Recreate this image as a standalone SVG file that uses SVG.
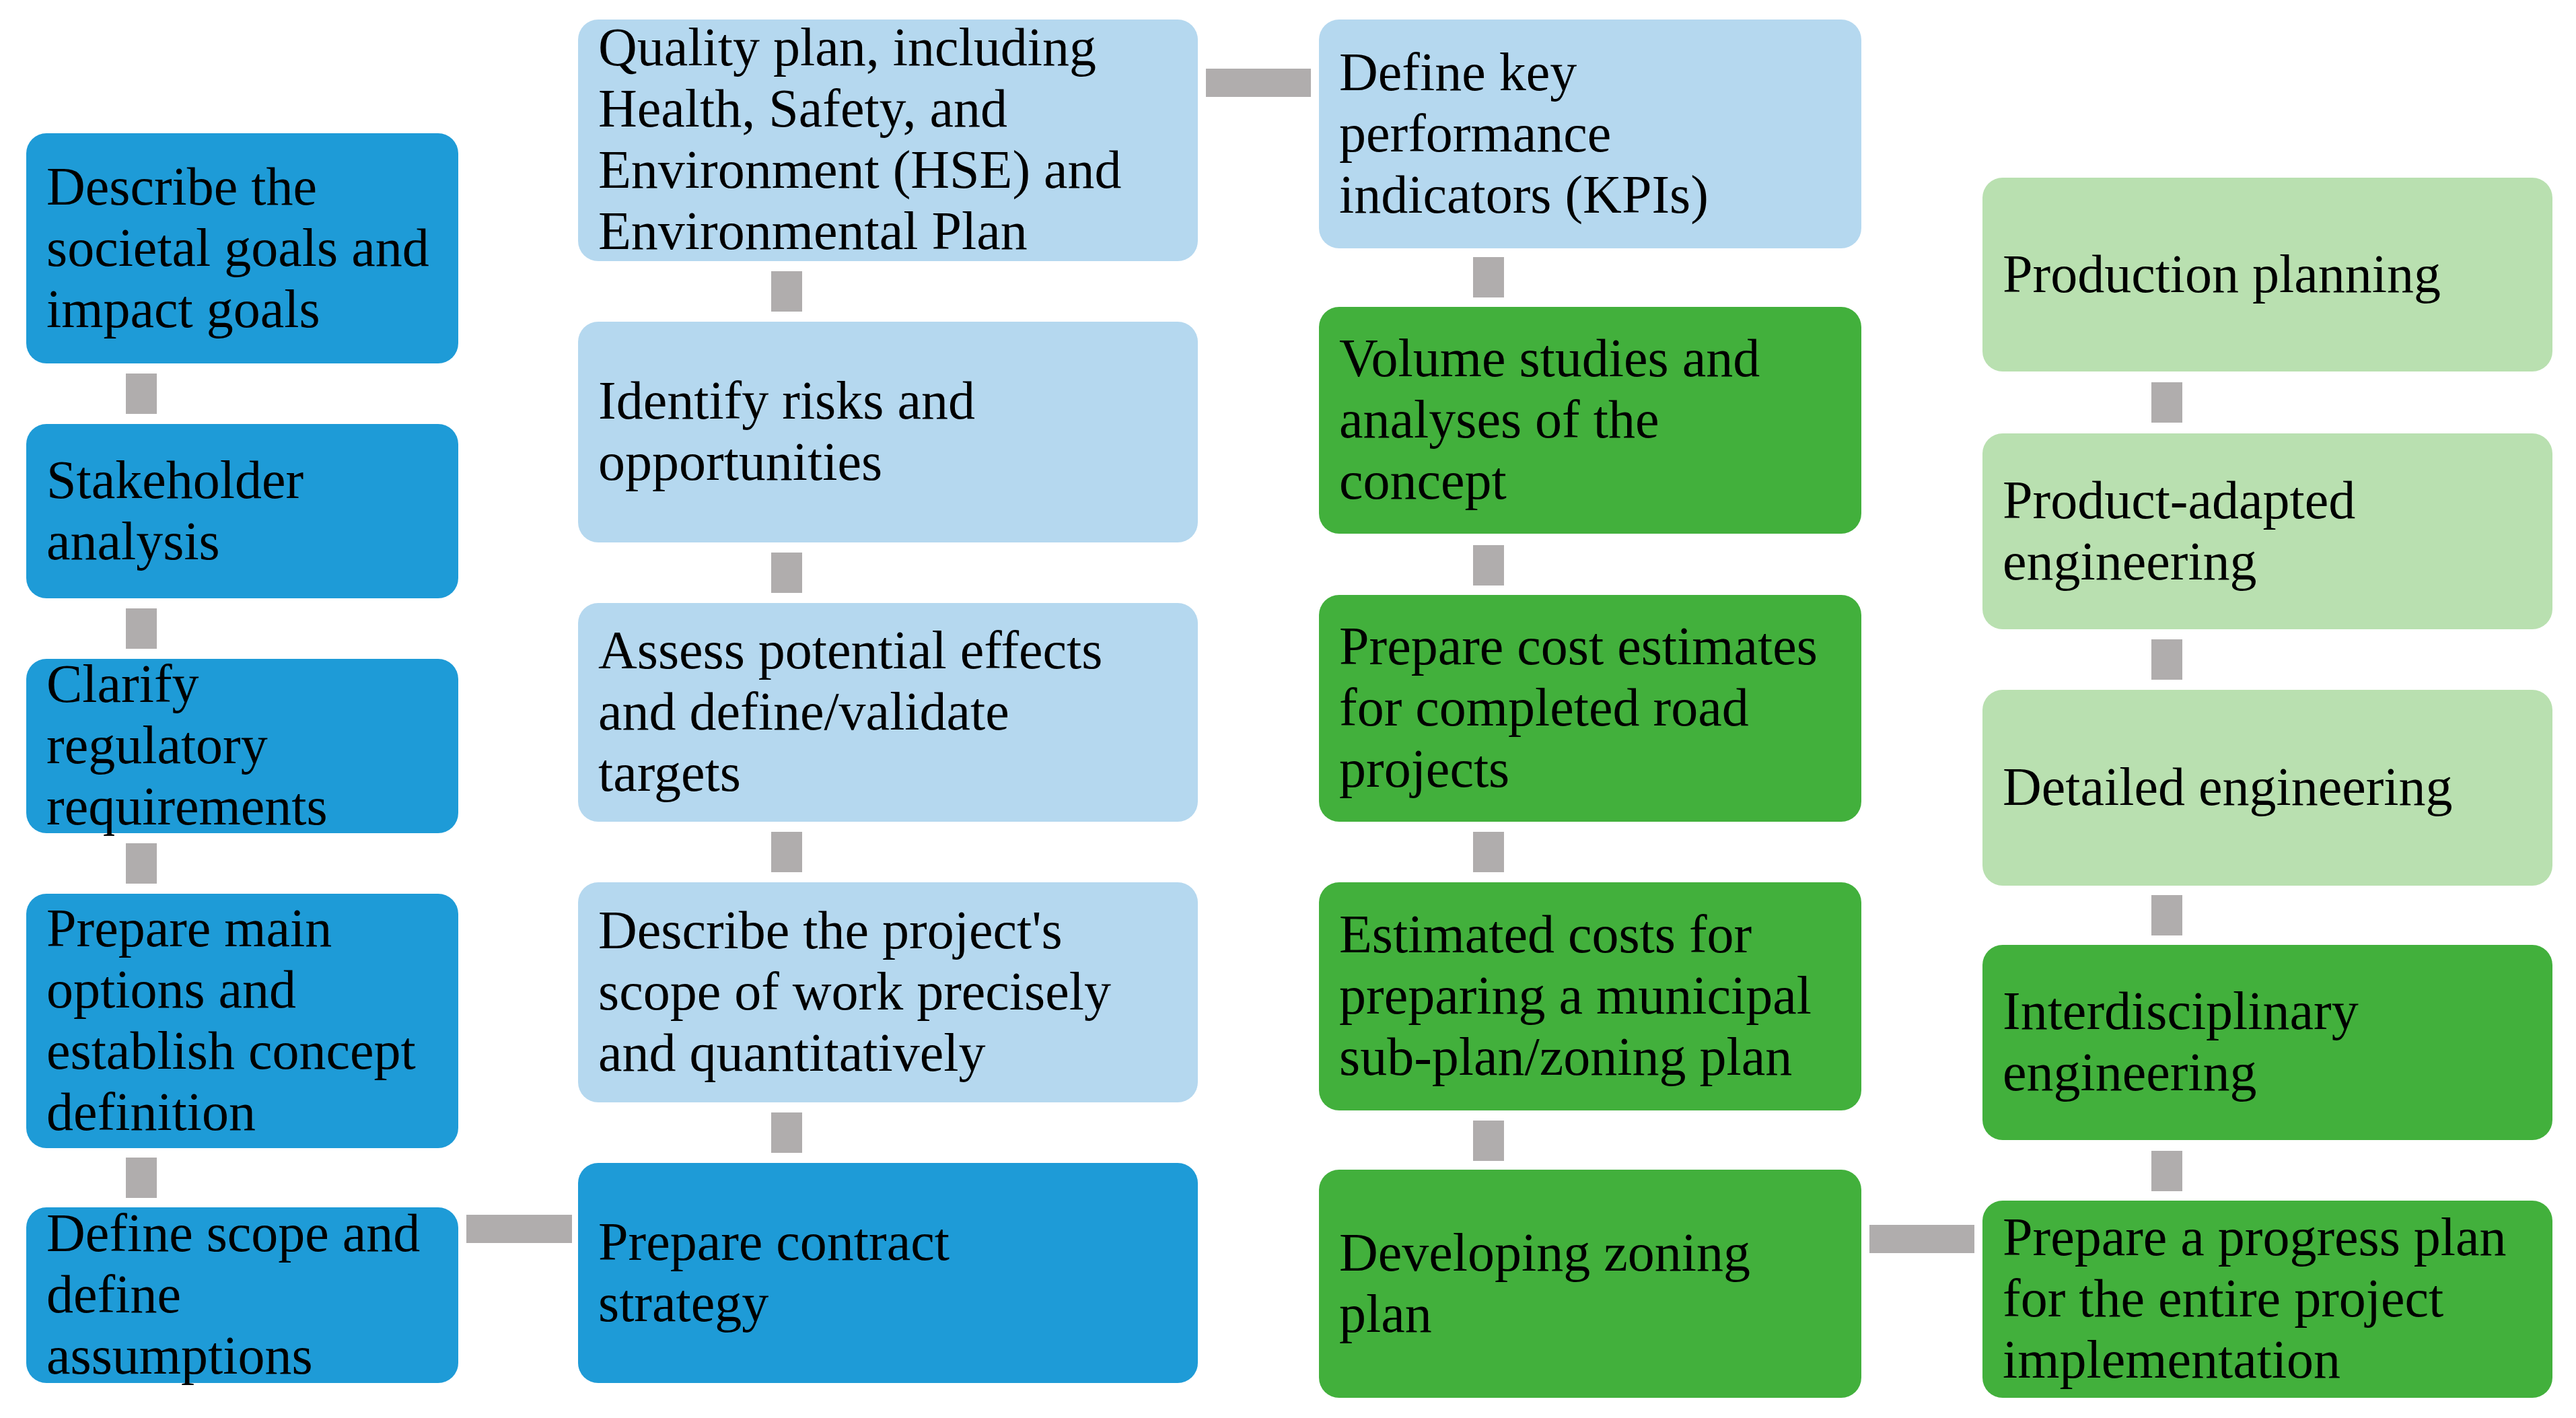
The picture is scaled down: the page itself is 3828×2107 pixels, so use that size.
<svg xmlns="http://www.w3.org/2000/svg" width="3828" height="2107" viewBox="0 0 3828 2107">
<style>
text{font-family:"Liberation Serif","Times New Roman",serif;font-size:80px;fill:#000}
.db{fill:#1e9bd7}.lb{fill:#b5d8ef}.g{fill:#42b03c}.lg{fill:#b9e0b0}
.c{fill:#b0adad}
</style>
<rect width="3828" height="2107" fill="#fff"/>
<g id="connectors">
<rect class="c" x="187" y="555" width="46" height="60"/><rect class="c" x="187" y="904" width="46" height="60"/><rect class="c" x="187" y="1253" width="46" height="60"/><rect class="c" x="187" y="1720" width="46" height="60"/>
<rect class="c" x="1146" y="403" width="46" height="60"/><rect class="c" x="1146" y="821" width="46" height="60"/><rect class="c" x="1146" y="1236" width="46" height="60"/><rect class="c" x="1146" y="1653" width="46" height="60"/>
<rect class="c" x="2189" y="382" width="46" height="60"/><rect class="c" x="2189" y="810" width="46" height="60"/><rect class="c" x="2189" y="1236" width="46" height="60"/><rect class="c" x="2189" y="1665" width="46" height="60"/>
<rect class="c" x="3197" y="568" width="46" height="60"/><rect class="c" x="3197" y="950" width="46" height="60"/><rect class="c" x="3197" y="1330" width="46" height="60"/><rect class="c" x="3197" y="1710" width="46" height="60"/>
<rect class="c" x="693" y="1805" width="157" height="42"/><rect class="c" x="1792" y="102" width="156" height="42"/><rect class="c" x="2778" y="1820" width="156" height="42"/>
</g>
<g id="n1"><rect class="db" x="39" y="198" width="642" height="342" rx="30"/><text x="69" y="304">Describe the<tspan x="69" dy="91">societal goals and</tspan><tspan x="69" dy="91">impact goals</tspan></text></g>
<g id="n2"><rect class="db" x="39" y="630" width="642" height="259" rx="30"/><text x="69" y="740">Stakeholder<tspan x="69" dy="91">analysis</tspan></text></g>
<g id="n3"><rect class="db" x="39" y="979" width="642" height="259" rx="30"/><text x="69" y="1043">Clarify<tspan x="69" dy="91">regulatory</tspan><tspan x="69" dy="91">requirements</tspan></text></g>
<g id="n4"><rect class="db" x="39" y="1328" width="642" height="378" rx="30"/><text x="69" y="1406">Prepare main<tspan x="69" dy="91">options and</tspan><tspan x="69" dy="91">establish concept</tspan><tspan x="69" dy="91">definition</tspan></text></g>
<g id="n5"><rect class="db" x="39" y="1794" width="642" height="261" rx="30"/><text x="69" y="1859">Define scope and<tspan x="69" dy="91">define</tspan><tspan x="69" dy="91">assumptions</tspan></text></g>
<g id="n6"><rect class="lb" x="859" y="29" width="921" height="359" rx="30"/><text x="889" y="97">Quality plan, including<tspan x="889" dy="91">Health, Safety, and</tspan><tspan x="889" dy="91">Environment (HSE) and</tspan><tspan x="889" dy="91">Environmental Plan</tspan></text></g>
<g id="n7"><rect class="lb" x="859" y="478" width="921" height="328" rx="30"/><text x="889" y="622">Identify risks and<tspan x="889" dy="91">opportunities</tspan></text></g>
<g id="n8"><rect class="lb" x="859" y="896" width="921" height="325" rx="30"/><text x="889" y="993">Assess potential effects<tspan x="889" dy="91">and define/validate</tspan><tspan x="889" dy="91">targets</tspan></text></g>
<g id="n9"><rect class="lb" x="859" y="1311" width="921" height="327" rx="30"/><text x="889" y="1409">Describe the project's<tspan x="889" dy="91">scope of work precisely</tspan><tspan x="889" dy="91">and quantitatively</tspan></text></g>
<g id="n10"><rect class="db" x="859" y="1728" width="921" height="327" rx="30"/><text x="889" y="1872">Prepare contract<tspan x="889" dy="91">strategy</tspan></text></g>
<g id="n11"><rect class="lb" x="1960" y="29" width="806" height="340" rx="30"/><text x="1990" y="134">Define key<tspan x="1990" dy="91">performance</tspan><tspan x="1990" dy="91">indicators (KPIs)</tspan></text></g>
<g id="n12"><rect class="g" x="1960" y="456" width="806" height="337" rx="30"/><text x="1990" y="559">Volume studies and<tspan x="1990" dy="91">analyses of the</tspan><tspan x="1990" dy="91">concept</tspan></text></g>
<g id="n13"><rect class="g" x="1960" y="884" width="806" height="337" rx="30"/><text x="1990" y="987">Prepare cost estimates<tspan x="1990" dy="91">for completed road</tspan><tspan x="1990" dy="91">projects</tspan></text></g>
<g id="n14"><rect class="g" x="1960" y="1311" width="806" height="339" rx="30"/><text x="1990" y="1415">Estimated costs for<tspan x="1990" dy="91">preparing a municipal</tspan><tspan x="1990" dy="91">sub-plan/zoning plan</tspan></text></g>
<g id="n15"><rect class="g" x="1960" y="1738" width="806" height="339" rx="30"/><text x="1990" y="1888">Developing zoning<tspan x="1990" dy="91">plan</tspan></text></g>
<g id="n16"><rect class="lg" x="2946" y="264" width="847" height="288" rx="30"/><text x="2976" y="434">Production planning</text></g>
<g id="n17"><rect class="lg" x="2946" y="644" width="847" height="291" rx="30"/><text x="2976" y="770">Product-adapted<tspan x="2976" dy="91">engineering</tspan></text></g>
<g id="n18"><rect class="lg" x="2946" y="1025" width="847" height="291" rx="30"/><text x="2976" y="1196">Detailed engineering</text></g>
<g id="n19"><rect class="g" x="2946" y="1404" width="847" height="290" rx="30"/><text x="2976" y="1529">Interdisciplinary<tspan x="2976" dy="91">engineering</tspan></text></g>
<g id="n20"><rect class="g" x="2946" y="1784" width="847" height="293" rx="30"/><text x="2976" y="1865">Prepare a progress plan<tspan x="2976" dy="91">for the entire project</tspan><tspan x="2976" dy="91">implementation</tspan></text></g>
</svg>
